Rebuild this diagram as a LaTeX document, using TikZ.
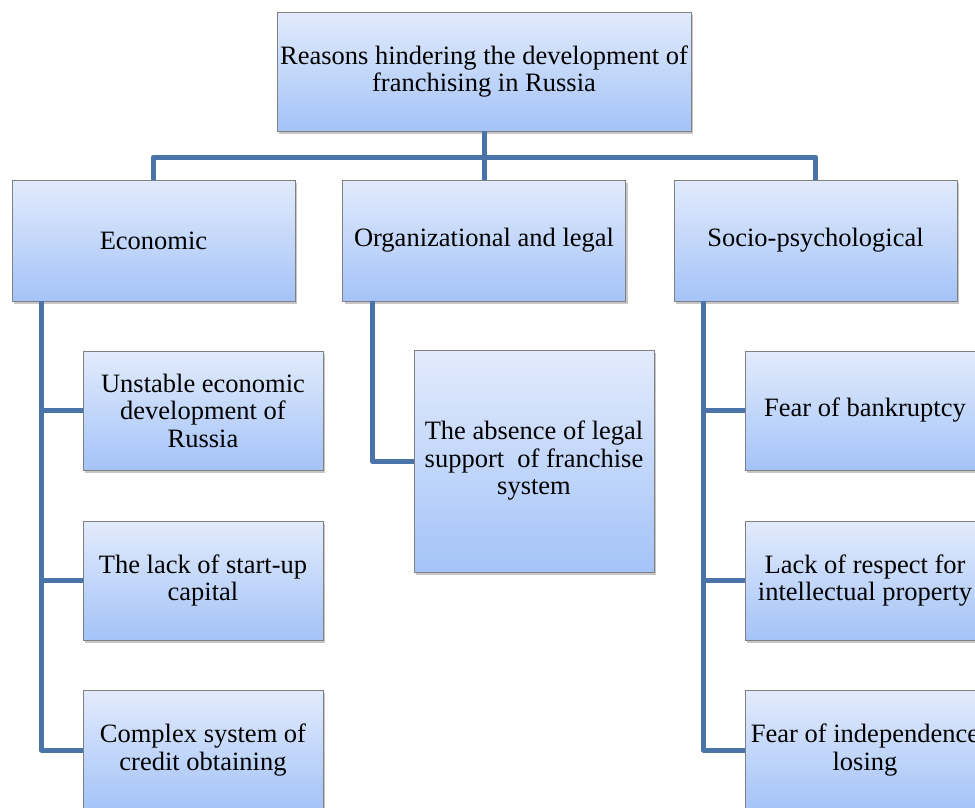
\documentclass[tikz,border=0pt]{standalone}
\usepackage{fontspec}
\setmainfont{Liberation Serif}
\usetikzlibrary{shadows}
\definecolor{linkblue}{RGB}{74,116,168}
\definecolor{boxtop}{RGB}{226,235,252}
\definecolor{boxbot}{RGB}{164,195,248}
\definecolor{boxedge}{RGB}{128,128,128}
\begin{document}
\begin{tikzpicture}[x=1pt,y=-1pt,
  box/.style={rectangle,draw=boxedge,line width=0.8pt,top color=boxtop,bottom color=boxbot,
    inner sep=0pt,align=center,font=\fontsize{26.5}{27.5}\selectfont,
    drop shadow={shadow xshift=2pt,shadow yshift=-2.5pt,opacity=0.45,fill=gray}},
  link/.style={draw=linkblue,line width=5pt,line join=round}]
\useasboundingbox (0,0) rectangle (975,807);
\clip (0,0) rectangle (975,807);
% top
\node[box,minimum width=414pt,minimum height=119pt] (top) at (484,71.5)
  {Reasons hindering the development of\\franchising in Russia};
% level 2
\node[box,minimum width=283pt,minimum height=121pt] (econ) at (153.5,240.5) {Economic};
\node[box,minimum width=283pt,minimum height=121pt] (org) at (484,240.5) {Organizational and legal};
\node[box,minimum width=283pt,minimum height=121pt] (soc) at (815.5,240.5) {Socio-psychological};
% economic children
\node[box,minimum width=240pt,minimum height=119pt] (e1) at (203,410.5) {Unstable economic\\development of\\Russia};
\node[box,minimum width=240pt,minimum height=119pt] (e2) at (203,580.5) {The lack of start-up\\capital};
\node[box,minimum width=240pt,minimum height=119pt] (e3) at (203,750) {Complex system of\\credit obtaining};
% org child
\node[box,minimum width=240pt,minimum height=222pt] (o1) at (534,461) {The absence of legal\\support\ \ of franchise\\system};
% socio children
\node[box,minimum width=240pt,minimum height=119pt] (s1) at (865,410.5) {Fear of bankruptcy};
\node[box,minimum width=240pt,minimum height=119pt] (s2) at (865,580.5) {Lack of respect for\\intellectual property};
\node[box,minimum width=240pt,minimum height=119pt] (s3) at (865,750) {Fear of independence\\losing};
% connectors
\coordinate (hub) at (484,157);
\draw[link] (top.south) -- (hub);
\draw[link] (econ.north) |- (hub);
\draw[link] (soc.north) |- (hub);
\draw[link] (org.north) -- (hub);
\coordinate (ecotop) at ([xshift=30pt]econ.south west);
\coordinate (orgtop) at ([xshift=30pt]org.south west);
\coordinate (soctop) at ([xshift=30pt]soc.south west);
\draw[link] (ecotop) |- (e1.west);
\draw[link] (ecotop) |- (e2.west);
\draw[link] (ecotop) |- (e3.west);
\draw[link] (orgtop) |- (o1.west);
\draw[link] (soctop) |- (s1.west);
\draw[link] (soctop) |- (s2.west);
\draw[link] (soctop) |- (s3.west);
\end{tikzpicture}
\end{document}
